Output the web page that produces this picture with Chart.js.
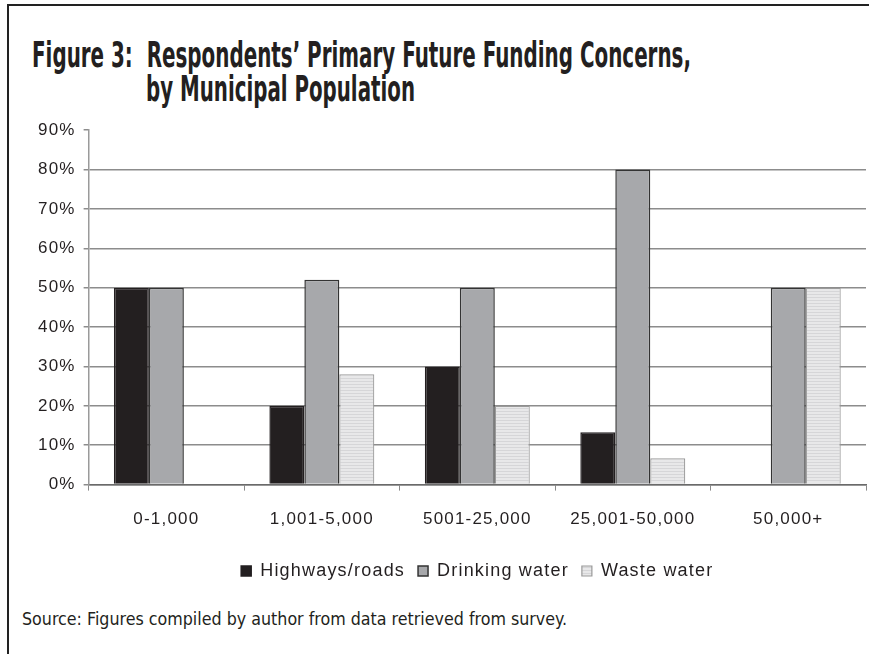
<!DOCTYPE html>
<html>
<head>
<meta charset="utf-8">
<script src="https://cdn.jsdelivr.net/npm/chart.js@4.4.0/dist/chart.umd.min.js"></script>
<style>
  html, body { margin: 0; padding: 0; background: #fff; }
  body { width: 869px; height: 654px; overflow: hidden; position: relative; }
  #frame { position: absolute; left: 7px; top: 4px; right: -5px; bottom: -5px;
           border-left: 2px solid #222; border-top: 2px solid #222; }
  .title { position: absolute; white-space: nowrap; font-family: "DejaVu Sans Condensed", "DejaVu Sans", sans-serif;
           font-weight: bold; font-size: 36px; line-height: 36px; color: #231f20; transform-origin: left top; }
  #t1 { left: 32px; top: 37px; }
  #t2 { left: 146px; top: 71px; }
  #source { position: absolute; left: 22px; top: 610px; white-space: nowrap; font-size: 18px; line-height: 18px;
            font-family: "DejaVu Sans Condensed", "DejaVu Sans", sans-serif; color: #231f20;
            transform-origin: left top; }
  #wrap { position: absolute; left: 0; top: 112px; width: 962px; height: 480px; }
</style>
</head>
<body>
<div id="frame"></div>
<div class="title" id="t1">Figure 3:&nbsp; Respondents’ Primary Future Funding Concerns,</div>
<div class="title" id="t2">by Municipal Population</div>
<div id="wrap"><canvas id="chart"></canvas></div>
<div id="source">Source: Figures compiled by author from data retrieved from survey.</div>
<script>
// Datos del gráfico (porcentajes)
const categories = ["0-1,000", "1,001-5,000", "5001-25,000", "25,001-50,000", "50,000+"];
const highways = [50, 20, 30, 13.3, 0];
const drinkingWater = [50, 52, 50, 80, 50];
const wasteWater = [0, 28, 20, 6.7, 50];
const yTicks = [0, 10, 20, 30, 40, 50, 60, 70, 80, 90];

// Ajustar el ancho del texto condensado
function fitWidth(id, target) {
    const el = document.getElementById(id);
    const w = el.getBoundingClientRect().width;
    el.style.transform = "scaleX(" + (target / w) + ")";
}
fitWidth("t1", 659);
fitWidth("t2", 269);
fitWidth("source", 545);

// Patrón rayado para aguas residuales
function stripePattern() {
    const c = document.createElement("canvas");
    c.width = 4; c.height = 3;
    const g = c.getContext("2d");
    g.fillStyle = "#e8e8e9";
    g.fillRect(0, 0, 4, 3);
    g.fillStyle = "#d6d6d8";
    g.fillRect(0, 2, 4, 1);
    return g.createPattern(c, "repeat");
}

// Espaciado de letras como en el original
const spacingPlugin = {
    id: "spacing",
    beforeUpdate: chart => { chart.ctx.letterSpacing = "1.2px"; },
    beforeLayout: chart => { chart.ctx.letterSpacing = "1.2px"; },
    beforeDraw: chart => { chart.ctx.letterSpacing = "1.2px"; }
};

const fontMain = { family: "'Liberation Sans', Arial, sans-serif", size: 17 };
const fontLegend = { family: "'Liberation Sans', Arial, sans-serif", size: 18 };

new Chart(document.getElementById("chart").getContext("2d"), {
    type: "bar",
    data: {
        labels: categories,
        datasets: [
            { label: "Highways/roads", data: highways, backgroundColor: "#231f20", borderColor: "#231f20", borderWidth: 1.5 },
            { label: "Drinking water", data: drinkingWater, backgroundColor: "#a7a8ab", borderColor: "#333333", borderWidth: 1.5 },
            { label: "Waste water", data: wasteWater, backgroundColor: stripePattern(), borderColor: "#9a9a9a", borderWidth: 1.2 }
        ]
    },
    plugins: [spacingPlugin],
    options: {
        responsive: true,
        maintainAspectRatio: false,
        animation: false,
        layout: { padding: { left: 30, right: 96, top: 10, bottom: 2 } },
        datasets: { bar: { barPercentage: 1, categoryPercentage: 0.675, borderSkipped: "bottom" } },
        plugins: {
            legend: {
                position: "bottom",
                fullSize: false,
                labels: {
                    font: fontLegend, color: "#231f20", boxWidth: 10, boxHeight: 10, padding: 13
                }
            },
            tooltip: { enabled: false }
        },
        scales: {
            x: {
                grid: { offset: true, drawOnChartArea: false, drawTicks: true, tickLength: 6, tickColor: "#8a8a8a" },
                border: { color: "#6a6a6a", width: 1.5 },
                ticks: { font: fontMain, color: "#231f20", padding: 19 }
            },
            y: {
                min: 0, max: 90,
                afterBuildTicks: axis => { axis.ticks = yTicks.map(v => ({ value: v })); },
                grid: {
                    color: ctx => (ctx.tick && ctx.tick.value === 90) ? "rgba(0,0,0,0)" : "#8c8c8c",
                    tickColor: "#8c8c8c", lineWidth: 1.5, tickLength: 5
                },
                border: { color: "#9a9a9a", width: 1.5 },
                ticks: { font: fontMain, color: "#231f20", padding: 8, callback: v => v + "%" }
            }
        }
    }
});
</script>
</body>
</html>
